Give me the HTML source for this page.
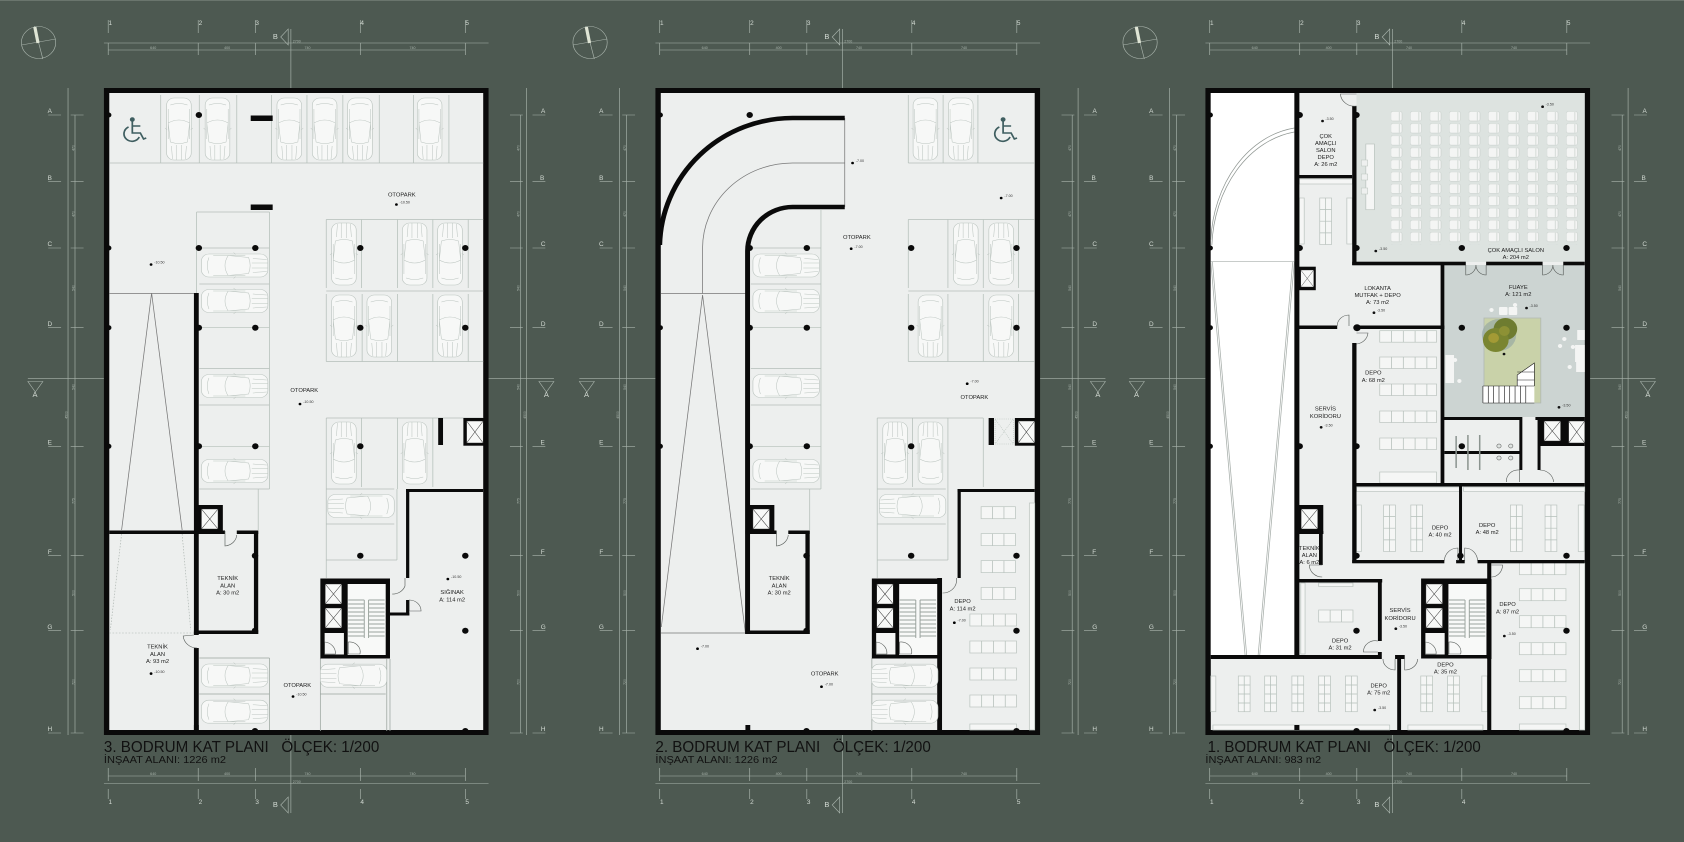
<!DOCTYPE html>
<html><head><meta charset="utf-8"><style>
html,body{margin:0;padding:0;background:#4d5951}
svg{display:block}
text{font-family:"Liberation Sans","DejaVu Sans",sans-serif}
.w{fill:#0a0a0a}
.g{stroke:#b4bfb9;stroke-width:.7;fill:none}
.a{stroke:#aab5ad;stroke-width:.6;fill:none}
.n{font-size:5.4px;fill:#222;text-anchor:middle}
.e{font-size:3.4px;fill:#333}
.d{font-size:3.4px;fill:#aab5ad;text-anchor:middle}
.h{font-size:6px;fill:#d3dad3;text-anchor:middle}
.t{font-size:16px;fill:#111}
.u{font-size:10.5px;fill:#111}
.r{stroke:#5a5f5c;stroke-width:.6;fill:#edefee}
.o{stroke:#5a5f5c;stroke-width:.6;fill:none}
.sh{fill:#f5f6f5;stroke:#bcc5c0;stroke-width:.7}
.gl{stroke:#777;stroke-width:.7;fill:none}
</style></head><body>
<svg xmlns="http://www.w3.org/2000/svg" width="1684" height="842" viewBox="0 0 1684 842">
<defs>
<g id="car">
<rect x="-11.5" y="-31" width="23" height="62" rx="7" fill="#f7f8f7" stroke="#bcc5c0" stroke-width=".6"/>
<path d="M-13-1-11 1M13-1 11 1M-8-24Q0-27 8-24M-10-6Q0-12 10-6L8 13Q0 16-8 13ZM-7 17-6 30M-2.5 16V31M2.5 16V31M7 17 6 30M-10-20V10M10-20V10" fill="none" stroke="#bcc5c0" stroke-width=".5"/>
</g>
<g id="elev"><rect width="15.5" height="20" fill="#f8f9f8" stroke="#222" stroke-width=".4"/><path d="M0 0 15.5 20M15.5 0 0 20" stroke="#333" stroke-width=".5"/></g>
<g id="wc" fill="none" stroke="#3f5e60" stroke-width="1.6">
<circle cx="123.5" cy="119.5" r="1.5" fill="#3f5e60"/>
<path d="M123.5 121V133H131L134 139 136.5 138M123.5 126H131M120 127A7.5 7.5 0 1 0 130 137"/>
</g>
<g id="ann">
<circle cx="36" cy="42.5" r="16" class="a" stroke-width=".8" stroke="#c5ccc5"/>
<path d="M20 45 52 39M32 26 40 59" class="a"/>
<path d="M32.5 27 35.5 43" stroke="#dfe5d5" stroke-width="3"/>
<path d="M101 20V33M185 20V33M238.3 20V33M336.3 20V33M434.3 20V33M97 43H456M101 50H434M101 43V55M185 43V55M238.3 43V55M336.3 43V55M434.3 43V55M271.5 29V88M262 37 269 29V45ZM101 768V781M185 768V781M238.3 768V781M336.3 768V781M434.3 768V781M101 776H434M97 783.5H456M101 789V799M185 789V799M238.3 789V799M336.3 789V799M262 805 269 797V813ZM271.5 735V813M26 378.7H97M456 378.7H517M26 381.5H40L33 392ZM503 381.5H517L510 392ZM63.5 88V735M70 115V733M491.5 88V735M486 115V733" class="a"/>
<path d="M45 115H57M66 115H78M45 181.7H57M66 181.7H78M45 248H57M66 248H78M45 327.7H57M66 327.7H78M45 446.3H57M66 446.3H78M45 555.7H57M66 555.7H78M45 630.7H57M66 630.7H78M45 733H57M66 733H78M476 115H488M497 115H509M476 181.7H488M497 181.7H509M476 248H488M497 248H509M476 327.7H488M497 327.7H509M476 446.3H488M497 446.3H509M476 555.7H488M497 555.7H509M476 630.7H488M497 630.7H509M476 733H488M497 733H509" class="a"/>
<text class="h" x="103" y="25">1</text><text class="h" x="187" y="25">2</text><text class="h" x="240" y="25">3</text><text class="h" x="338" y="25">4</text><text class="h" x="436" y="25">5</text>
<text class="h" x="103" y="804">1</text><text class="h" x="187" y="804">2</text><text class="h" x="240" y="804">3</text><text class="h" x="338" y="804">4</text>
<text class="h" x="257" y="39" style="font-size:7px">B</text><text class="h" x="257" y="807" style="font-size:7px">B</text>
<text class="h" x="32.7" y="397" style="font-size:7px">A</text><text class="h" x="510" y="397" style="font-size:7px">A</text>
<text class="d" x="143" y="49">640</text><text class="d" x="212" y="49">400</text><text class="d" x="287" y="49">740</text><text class="d" x="385" y="49">740</text><text class="d" x="277" y="42.5">2700</text>
<text class="d" x="143" y="775">640</text><text class="d" x="212" y="775">400</text><text class="d" x="287" y="775">740</text><text class="d" x="385" y="775">740</text><text class="d" x="277" y="783">2700</text>
<text class="h" x="46.5" y="113">A</text><text class="h" x="46.5" y="180">B</text><text class="h" x="46.5" y="246">C</text><text class="h" x="46.5" y="326">D</text><text class="h" x="46.5" y="444.5">E</text><text class="h" x="46.5" y="554">F</text><text class="h" x="46.5" y="629">G</text><text class="h" x="46.5" y="731">H</text>
<text class="h" x="507" y="113">A</text><text class="h" x="506" y="180">B</text><text class="h" x="507" y="246">C</text><text class="h" x="507" y="326">D</text><text class="h" x="506.5" y="444.5">E</text><text class="h" x="506.5" y="554">F</text><text class="h" x="507" y="629">G</text><text class="h" x="507" y="731">H</text>
<g class="d"><text transform="translate(69.5,148) rotate(-90)">470</text><text transform="translate(69.5,214) rotate(-90)">470</text><text transform="translate(69.5,288) rotate(-90)">540</text><text transform="translate(69.5,387) rotate(-90)">540</text><text transform="translate(63,415) rotate(-90)">4500</text><text transform="translate(69.5,501) rotate(-90)">775</text><text transform="translate(69.5,593) rotate(-90)">500</text><text transform="translate(69.5,682) rotate(-90)">720</text>
<text transform="translate(485,148) rotate(-90)">470</text><text transform="translate(485,214) rotate(-90)">470</text><text transform="translate(485,288) rotate(-90)">540</text><text transform="translate(485,387) rotate(-90)">540</text><text transform="translate(491,415) rotate(-90)">4500</text><text transform="translate(485,501) rotate(-90)">775</text><text transform="translate(485,593) rotate(-90)">500</text><text transform="translate(485,682) rotate(-90)">720</text></g>
</g>
<g id="core">
<rect class="w" x="299" y="578.5" width="65" height="80"/>
<use href="#elev" x="303.5" y="584"/><use href="#elev" x="303.5" y="608"/>
<rect x="303" y="633" width="18" height="21.5" fill="#f5f6f5"/>
<rect x="324.5" y="584" width="35.5" height="71" fill="#f8f9f8"/>
<path d="M325 600H340M344 600H359M325 604H340M344 604H359M325 608H340M344 608H359M325 612H340M344 612H359M325 616H340M344 616H359M325 620H340M344 620H359M325 624H340M344 624H359M325 628H340M344 628H359M325 632H340M344 632H359M325 636H340M344 636H359M340 600V638M344 600V638" stroke="#9aa39e" stroke-width=".9" fill="none"/>
<path class="o" d="M303 642A11 11 0 0 1 313 654H303ZM325 642A10 10 0 0 1 336 654H325Z"/>
</g>
<g id="tek">
<rect class="w" x="181" y="530.5" width="29" height="3.5"/><rect class="w" x="221" y="530.5" width="20" height="3.5"/>
<rect class="w" x="237" y="530.5" width="4" height="103.5"/><rect class="w" x="181" y="630.5" width="60" height="3.5"/>
<rect class="w" x="185" y="505" width="23" height="29"/><use href="#elev" x="188" y="509"/>
<path class="r" d="M210 531V546A12 12 0 0 0 221 535"/>
<text class="n" x="212.5" y="580">TEKNİK</text><text class="n" x="212.5" y="587.5">ALAN</text><text class="n" x="212.5" y="594.5">A: 30 m2</text>
</g>
<g id="s33"><rect class="sh" width="32" height="12"/><path class="g" d="M10.7 0V12M21.3 0V12"/></g>
<g id="s44"><rect class="sh" width="43.5" height="12"/><path class="g" d="M11 0V12M22 0V12M33 0V12"/></g>
<g id="s53"><rect class="sh" width="53" height="11.5"/><path class="g" d="M11 0V11.5M22 0V11.5M33 0V11.5M44 0V11.5"/></g>
<g id="v36"><rect class="sh" width="11" height="35.7"/><path class="g" d="M5.5 0V35.7M0 9H11M0 18H11M0 27H11"/></g>
<g id="v46"><rect class="sh" width="11" height="46.5"/><path class="g" d="M5.5 0V46.5M0 11.6H11M0 23.2H11M0 34.9H11"/></g>
<pattern id="chairs" x="270" y="111.5" width="18.2" height="12.07" patternUnits="userSpaceOnUse">
<rect x="0" y="0" width="10.5" height="9.5" rx="2" fill="#f4f5f4" stroke="#c3cbc7" stroke-width=".5"/><path d="M8 .5V9" stroke="#c3cbc7" stroke-width=".6"/>
</pattern>
<g id="leftstalls"><path class="g" d="M251.5 248V489M241 489V530M186 248H251.5M186 284H251.5M186 327.7H251.5M186 368.5H251.5M186 405H251.5M186 446.3H251.5M186 489H251.5"/>
<use href="#car" transform="translate(219,265.5) rotate(-90)"/><use href="#car" transform="translate(219,301) rotate(-90)"/><use href="#car" transform="translate(219,386) rotate(-90)"/><use href="#car" transform="translate(219,471) rotate(-90)"/></g>
</defs>

<rect width="1684" height="842" fill="#4d5951"/>
<rect width="1684" height="1" fill="#6a756d"/>

<!-- PLAN 3 BODRUM -->
<g transform="scale(1.0714,1)">
<use href="#ann"/>
<path d="M434.3 789V799" class="a"/><text class="h" x="436" y="804">5</text>
<rect x="99.5" y="90.5" width="354" height="642" fill="#edefee" stroke="#0a0a0a" stroke-width="5"/>
<use href="#wc"/>
<path class="g" d="M102 163H451M150 95V163M186 95V163M221 95V163M253.5 95V163M286.5 95V163M320 95V163M354 95V163M386 95V163M419 95V163"/>
<path class="g" d="M183.5 212V294M183.5 212H251.5M251.5 212V248"/>
<use href="#leftstalls"/>
<use href="#car" x="167" y="129"/><use href="#car" x="203" y="129"/><use href="#car" x="270" y="129"/><use href="#car" x="303" y="129"/><use href="#car" x="336" y="129"/><use href="#car" x="401" y="129"/>
<rect class="w" x="234" y="115.5" width="20.5" height="5.5"/><rect class="w" x="234" y="204.5" width="20.5" height="5.5"/>
<path class="g" d="M304.5 219.5H451M304.5 291H451M304.5 361.5H451M304.5 219.5V288M337.5 219.5V288M371 219.5V288M404 219.5V288M437 219.5V288M304.5 294V361.5M338 294V361.5M371 294V361.5M404 294V361.5M437 294V361.5"/>
<use href="#car" transform="translate(321,254) rotate(180)"/><use href="#car" transform="translate(387,254) rotate(180)"/><use href="#car" transform="translate(420,254) rotate(180)"/>
<use href="#car" x="321" y="326"/><use href="#car" x="354" y="326"/><use href="#car" x="420" y="326"/>
<path class="g" d="M304.5 418H451M304.5 418V578M337.5 418V487M371 418V489M404 418V487M304.5 489H368M304.5 524H368M304.5 560H370.5M370.5 489V560"/>
<use href="#car" transform="translate(321,453) rotate(180)"/><use href="#car" transform="translate(387,453) rotate(180)"/><use href="#car" transform="translate(337,506) rotate(90)"/>
<rect class="w" x="409" y="418" width="4.5" height="27"/><rect class="w" x="432.5" y="418" width="19" height="27.7"/><use href="#elev" transform="translate(435.5,421) scale(1,1.1)"/>
<path class="gl" d="M102 293.5H181M141.5 293 113.5 530M141.5 293 170 530"/>
<path stroke="#aab3ae" stroke-width=".6" stroke-dasharray="1.5 1.5" fill="none" d="M102 633H181M113.5 534 103 630M170 534 178 630"/>
<rect class="w" x="181" y="293" width="4.5" height="342"/><rect class="w" x="181" y="648" width="4.5" height="83"/>
<rect class="w" x="102" y="530.5" width="80" height="3.5"/>
<use href="#tek"/>
<path class="o" d="M181 635 171 636A13 13 0 0 0 184 648"/>
<text class="n" x="147" y="648.5">TEKNİK</text><text class="n" x="147" y="656">ALAN</text><text class="n" x="147" y="663">A: 93 m2</text>
<rect class="w" x="379" y="489" width="72" height="3"/><rect class="w" x="379" y="489" width="3" height="89"/><rect class="w" x="379" y="600" width="3" height="15.5"/><rect class="w" x="364" y="612.5" width="18" height="3"/>
<path class="o" d="M378 578V586A12 12 0 0 1 366 594"/><path class="o" d="M382 600A11 11 0 0 1 393 611H382Z"/>
<path class="g" d="M186 658H251.5M186 694H251.5M251.5 658V730M299 658V731M299 694H360M361 659V731M364 659V731" style="stroke:#9ba59f"/>
<use href="#car" transform="translate(219,675.5) rotate(-90)"/><use href="#car" transform="translate(219,711.7) rotate(-90)"/><use href="#car" transform="translate(330,675.7) rotate(90)"/>
<use href="#core"/>
<g class="w"><circle cx="101.5" cy="115" r="2.5"/><circle cx="185.6" cy="115" r="3"/><circle cx="101.5" cy="248" r="2.5"/><circle cx="185.6" cy="248" r="3"/><circle cx="238.3" cy="248" r="3"/><circle cx="336.3" cy="248" r="3"/><circle cx="434.3" cy="248" r="3"/><circle cx="101.5" cy="327.7" r="2.5"/><circle cx="185.6" cy="327.7" r="3"/><circle cx="238.3" cy="327.7" r="3"/><circle cx="336.3" cy="327.7" r="3"/><circle cx="434.3" cy="327.7" r="3"/><circle cx="101.5" cy="446.3" r="2.5"/><circle cx="185.6" cy="446.3" r="3"/><circle cx="238.3" cy="446.3" r="3"/><circle cx="336.3" cy="446.3" r="3"/><circle cx="238" cy="555.7" r="3"/><circle cx="336.3" cy="555.7" r="3"/><circle cx="434.3" cy="555.7" r="3"/><circle cx="434.3" cy="630.7" r="3"/><circle cx="238" cy="630.7" r="3"/><circle cx="238" cy="731" r="3"/><circle cx="434.3" cy="731" r="3"/><rect x="181" y="725" width="4.5" height="6"/></g>
<text class="n" x="375" y="196.5">OTOPARK</text><circle cx="370" cy="204.5" r="1.3"/><text class="e" x="373" y="203.5">-10.50</text>
<circle cx="141" cy="264.5" r="1.3"/><text class="e" x="144" y="263.5">-10.50</text>
<text class="n" x="284" y="392">OTOPARK</text><circle cx="280" cy="404" r="1.3"/><text class="e" x="283" y="403">-10.50</text>
<circle cx="141" cy="673.6" r="1.3"/><text class="e" x="144" y="673">-10.50</text>
<text class="n" x="422" y="594">SIĞINAK</text><text class="n" x="422" y="601.5">A: 114 m2</text><circle cx="418" cy="579" r="1.3"/><text class="e" x="421" y="578">-10.50</text>
<text class="n" x="277.5" y="687">OTOPARK</text><circle cx="273.5" cy="696.5" r="1.3"/><text class="e" x="276.5" y="695.5">-10.50</text>
<text class="t" x="97" y="752" textLength="257" lengthAdjust="spacingAndGlyphs" xml:space="preserve">3. BODRUM KAT PLANI   ÖLÇEK: 1/200</text>
<text class="u" x="97" y="763" textLength="114" lengthAdjust="spacingAndGlyphs">İNŞAAT ALANI: 1226 m2</text>
</g>

<!-- PLAN 2 BODRUM -->
<g transform="translate(551.5,0) scale(1.0714,1)">
<use href="#ann"/>
<path d="M434.3 789V799" class="a"/><text class="h" x="436" y="804">5</text>
<rect x="99.5" y="90.5" width="354" height="642" fill="#edefee" stroke="#0a0a0a" stroke-width="5"/>
<use href="#wc" transform="translate(298,0)"/>
<path class="gl" d="M273.7 118V207M273.7 163H225A84 85 0 0 0 141 248V293.5M102 293.5H183M141 295 102.5 627M141 295 181 633M102 633H181"/>
<path fill="none" stroke="#0a0a0a" stroke-width="4.6" d="M273.7 118H225A124 130 0 0 0 101 245M273.7 207H225A42 44 0 0 0 183 251V634"/>
<path class="g" d="M251.5 209V248"/>
<use href="#leftstalls"/>
<use href="#tek"/>
<path class="g" d="M333 95V163M365.5 95V163M398 95V163M333 163H451M333 219.5H451M333 291H451M333 361.5H451M333 219.5V288M370 219.5V288M403 219.5V288M436 219.5V288M333 294V361.5M370 294V361.5M403 294V361.5M436 294V361.5"/>
<use href="#car" x="349" y="129"/><use href="#car" x="382" y="129"/>
<use href="#car" transform="translate(386.7,254) rotate(180)"/><use href="#car" transform="translate(419.7,254) rotate(180)"/>
<use href="#car" x="353.7" y="326"/><use href="#car" x="419.7" y="326"/>
<path class="g" d="M304 418H403M304 418V578M337 418V487M370 418V489M403 418V487M304 489H368M304 524H368M304 560H370M370 489V560"/>
<use href="#car" transform="translate(320.7,453) rotate(180)"/><use href="#car" transform="translate(353.7,453) rotate(180)"/><use href="#car" transform="translate(337,506) rotate(90)"/>
<rect class="w" x="408" y="418" width="5" height="27"/><path d="M414 419H431V444H414ZM414 419 431 444M431 419 414 444" fill="none" stroke="#b4bfb9" stroke-width=".5" stroke-dasharray="1 1"/>
<rect class="w" x="432.5" y="418" width="19" height="27.7"/><use href="#elev" transform="translate(435.5,421) scale(1,1.1)"/>
<rect class="w" x="379" y="489" width="72" height="3"/><rect class="w" x="379" y="489" width="3" height="89"/>
<rect class="w" x="360" y="578" width="4.5" height="153"/>
<path class="o" d="M378 578V582A13 13 0 0 1 365 593"/>
<use href="#s33" x="401" y="506.7"/><use href="#s33" x="401" y="533.6"/><use href="#s33" x="401" y="560.6"/><use href="#s33" x="401" y="587.5"/>
<use href="#s44" x="390.5" y="614"/><use href="#s44" x="390.5" y="641"/><use href="#s44" x="390.5" y="668"/><use href="#s44" x="390.5" y="695"/>
<rect class="sh" x="390.5" y="724" width="43.5" height="6"/>
<rect class="sh" x="446" y="503" width="5" height="227"/>
<path class="g" d="M299 658V731M299 694H360" style="stroke:#9ba59f"/>
<use href="#car" transform="translate(329.7,675.7) rotate(90)"/><use href="#car" transform="translate(329.7,711.7) rotate(90)"/>
<use href="#core"/>
<g class="w"><circle cx="101.5" cy="115" r="2.5"/><circle cx="185" cy="115" r="3"/><circle cx="185" cy="248" r="3"/><circle cx="238.3" cy="248" r="3"/><circle cx="335.7" cy="248" r="3"/><circle cx="434" cy="248" r="3"/><circle cx="101.5" cy="327.7" r="2.5"/><circle cx="185" cy="327.7" r="3"/><circle cx="238.3" cy="327.7" r="3"/><circle cx="335.7" cy="327.7" r="3"/><circle cx="434" cy="327.7" r="3"/><circle cx="101.5" cy="446.3" r="2.5"/><circle cx="185" cy="446.3" r="3"/><circle cx="238.3" cy="446.3" r="3"/><circle cx="335.7" cy="446.3" r="3"/><circle cx="238" cy="555.7" r="3"/><circle cx="335.7" cy="555.7" r="3"/><circle cx="434" cy="555.7" r="3"/><circle cx="434" cy="630.7" r="3"/><circle cx="238" cy="630.7" r="3"/><circle cx="238" cy="731" r="3"/><circle cx="434" cy="731" r="3"/><rect x="181" y="725" width="4.5" height="6"/></g>
<circle cx="281" cy="163" r="1.3"/><text class="e" x="284" y="162">-7.00</text>
<circle cx="419.7" cy="198" r="1.3"/><text class="e" x="422.7" y="197">-7.00</text>
<text class="n" x="285" y="239">OTOPARK</text><circle cx="279.7" cy="248.7" r="1.3"/><text class="e" x="282.7" y="248">-7.00</text>
<circle cx="388" cy="383.7" r="1.3"/><text class="e" x="391" y="382.5">-7.00</text><text class="n" x="394.7" y="399">OTOPARK</text>
<circle cx="136.3" cy="648.7" r="1.3"/><text class="e" x="139.3" y="647.5">-7.00</text>
<text class="n" x="255" y="675.5">OTOPARK</text><circle cx="252" cy="686.7" r="1.3"/><text class="e" x="255" y="685.5">-7.00</text>
<text class="n" x="383.7" y="603">DEPO</text><text class="n" x="383.7" y="610.5">A: 114 m2</text><circle cx="376" cy="622.7" r="1.3"/><text class="e" x="379" y="621.5">-7.00</text>
<text class="t" x="97" y="752" textLength="257" lengthAdjust="spacingAndGlyphs" xml:space="preserve">2. BODRUM KAT PLANI   ÖLÇEK: 1/200</text>
<text class="u" x="97" y="763" textLength="114" lengthAdjust="spacingAndGlyphs">İNŞAAT ALANI: 1226 m2</text>
</g>

<!-- PLAN 1 BODRUM -->
<g transform="translate(1101.5,0) scale(1.0714,1)">
<use href="#ann"/>
<rect x="99.5" y="90.5" width="354" height="642" fill="#edefee" stroke="#0a0a0a" stroke-width="5"/>
<rect x="102" y="93" width="78" height="562" fill="#fff"/>
<path d="M180 128A90 120 0 0 0 102 240M180 132A90 120 0 0 0 103 245" fill="none" stroke="#8f9692" stroke-width=".7"/>
<path class="gl" d="M102 261.7H180M102 262 134 655M103.5 262 135.5 655M180 262 147.7 655M178.5 262 146.2 655" style="stroke:#a7aeaa"/>
<rect x="238" y="93" width="213" height="169" fill="#dde3e0"/>
<rect x="270" y="111.5" width="181" height="133" fill="url(#chairs)"/>
<rect class="sh" x="246.7" y="144" width="8" height="65.7"/>
<path fill="#eef0ef" stroke="#bcc5c0" stroke-width=".5" d="M242.5 160H248.5V166H242.5ZM242.5 174H248.5V180H242.5ZM242.5 188H248.5V194H242.5Z"/>
<rect x="320" y="265" width="131" height="152" fill="#ccd4d2"/>
<rect x="357" y="318" width="53" height="85" fill="#c9d2a9" stroke="#b2bab5" stroke-width=".8"/>
<circle cx="371" cy="335" r="16" fill="#8b9fa0" opacity=".55"/>
<circle cx="377" cy="329" r="11" fill="#6e7c30"/><circle cx="368" cy="340" r="12" fill="#7a8530"/><circle cx="366" cy="338" r="5" fill="#a39a35"/><circle cx="376" cy="331" r="5" fill="#8d9135"/>
<path d="M388 375 404 363V403H356V386H388Z" fill="#fff"/>
<path d="M356 386H404M356 403H404M356 386V403M361 386V403M366 386V403M371 386V403M376 386V403M381 386V403M386 386V403M391 386V403M396 386V403M388 375V386M388 380H404M388 375 404 363V386M388 372H404" fill="none" stroke="#222" stroke-width=".6"/>
<g fill="#f4f5f4"><rect x="371" y="307" width="8" height="8" rx="1"/><rect x="380" y="307" width="8" height="8" rx="1"/><circle cx="364" cy="310" r="2"/><circle cx="386" cy="305" r="2"/><rect x="321" y="355" width="8" height="9"/><rect x="321" y="364" width="8" height="19"/><circle cx="330" cy="360" r="2"/><circle cx="334" cy="381" r="2"/><rect x="444" y="330" width="7" height="10"/><rect x="442" y="345" width="9" height="17"/><rect x="443" y="362" width="8" height="10"/><circle cx="432" cy="339" r="2"/><circle cx="428" cy="346" r="2"/><circle cx="440" cy="347" r="2"/><circle cx="437" cy="367" r="2"/></g>
<rect class="sh" x="184.7" y="179" width="49.5" height="5"/><rect class="sh" x="184.7" y="198" width="4.5" height="46"/><use href="#v46" x="203.7" y="198"/><rect class="sh" x="229" y="198" width="5" height="46"/>
<use href="#s53" x="259.7" y="330.7"/><use href="#s53" x="259.7" y="357"/><use href="#s53" x="259.7" y="384"/><use href="#s53" x="259.7" y="411"/><use href="#s53" x="259.7" y="438"/><rect class="sh" x="259.7" y="472" width="53" height="11"/>
<rect class="sh" x="238" y="487" width="96" height="4.5"/><rect class="sh" x="338" y="487" width="113" height="4.5"/>
<rect class="sh" x="238" y="505" width="4.5" height="46.5"/>
<use href="#v46" x="263.3" y="505"/><use href="#v46" x="288.7" y="505"/><use href="#v46" x="381.7" y="505"/><use href="#v46" x="414" y="505"/><rect class="sh" x="445" y="505" width="5.5" height="46.5"/>
<use href="#s33" x="202.7" y="610"/><rect class="sh" x="202.7" y="583" width="32" height="3.5"/><rect class="sh" x="186" y="583" width="4" height="71"/>
<use href="#s44" x="390" y="562.7"/><use href="#s44" x="390" y="588.7"/><use href="#s44" x="390" y="615.7"/><use href="#s44" x="390" y="642.7"/><use href="#s44" x="390" y="669.7"/><use href="#s44" x="390" y="696.7"/><rect class="sh" x="390" y="724" width="43.5" height="6"/><rect class="sh" x="446" y="563" width="5" height="167"/>
<rect class="sh" x="104" y="725" width="165" height="5"/><rect class="sh" x="286" y="725" width="70" height="5"/>
<rect class="sh" x="102" y="676" width="4.700" height="35.700"/><use href="#v36" x="127.7" y="676"/><use href="#v36" x="152.3" y="676"/><use href="#v36" x="177.7" y="676"/><use href="#v36" x="202.7" y="676"/><use href="#v36" x="227.7" y="676"/>
<use href="#v36" x="298" y="676"/><use href="#v36" x="323" y="676"/><rect class="sh" x="355" y="676" width="5" height="35.700"/>
<g class="w">
<rect x="180" y="93" width="4.7" height="566"/>
<rect x="184" y="175" width="50" height="3.3"/>
<rect x="234" y="106" width="4" height="159"/>
<rect x="234" y="261.7" width="106" height="3.6"/><rect x="359" y="261.7" width="52.7" height="3.6"/><rect x="431" y="261.7" width="20" height="3.6"/>
<rect x="316.5" y="262" width="3.5" height="224"/>
<rect x="184" y="325.5" width="36" height="3.5"/><rect x="238" y="325.5" width="82" height="3.5"/>
<rect x="234" y="343" width="4" height="220"/>
<rect x="238" y="483" width="213" height="3.5"/>
<rect x="333.7" y="486" width="2.8" height="75"/>
<rect x="234" y="560" width="86" height="3.3"/><rect x="331" y="560" width="8" height="3.3"/><rect x="351" y="560" width="100" height="3.3"/>
<rect x="184" y="266.7" width="16" height="23.5"/><rect x="184" y="505" width="23" height="29"/>
<rect x="203" y="505" width="3.5" height="60"/><rect x="184" y="531" width="23" height="3"/>
<rect x="184" y="579" width="78" height="3.5"/><rect x="258" y="579" width="3.6" height="62"/><rect x="258" y="652" width="3.6" height="7"/>
<rect x="102" y="655" width="158" height="4"/><rect x="274" y="655" width="9" height="4"/>
<rect x="276" y="655" width="3.6" height="76"/><rect x="180" y="725" width="4.700" height="5"/>
<rect x="360" y="561" width="3.8" height="170"/>
<rect x="317" y="417" width="74" height="3"/><rect x="405" y="417" width="46" height="3"/>
<rect x="390" y="417" width="2.8" height="53"/><rect x="407" y="417" width="2.8" height="53"/>
<rect x="320" y="451" width="71" height="3"/>
<rect x="409" y="417" width="42" height="29"/>
</g>
<use href="#elev" transform="translate(186,270) scale(.78,.85)"/>
<use href="#elev" x="186.300" y="509"/>
<use href="#elev" transform="translate(413,421) scale(1,1)"/><rect x="430" y="418" width="4" height="25" class="w"/><use href="#elev" transform="translate(436,421) scale(.97,1.1)"/>
<path d="M331 436V468M342 435V470M353 435V470" stroke="#8b948f" stroke-width="1.4"/>
<g fill="#dfe4e1" stroke="#555" stroke-width=".5"><circle cx="371" cy="446" r="2"/><circle cx="382" cy="446" r="2"/><circle cx="371" cy="458" r="2"/><circle cx="382" cy="458" r="2"/></g>
<use href="#core" x="-.7"/>
<rect class="w" x="360" y="579" width="4" height="80"/>
<path class="o" d="M238 94H223A13 13 0 0 0 238 106"/>
<path class="o" d="M340 265V275A9.500 10 0 0 0 349.500 265M359 265V275A9.500 10 0 0 1 349.500 265M411.700 265V275A9.700 10 0 0 0 421.300 265M431 265V275A9.700 10 0 0 1 421.300 265"/>
<path class="o" d="M231 326V315A11 11 0 0 0 220 326M238 344A12 12 0 0 0 248.700 333H238"/>
<path class="o" d="M378 482A11 11 0 0 1 390 470V482M409 470A13 13 0 0 1 422 482"/>
<path class="o" d="M332.700 561V548A12.700 13 0 0 0 320 561M339 561V548A12 13 0 0 1 351 561"/>
<path class="o" d="M364 565H374.300A10.300 12 0 0 1 364 577M206 565H194A12 12 0 0 0 206 577"/>
<path class="o" d="M258 641A11 11 0 0 0 244.500 652H258M262.700 659A11.500 11 0 0 0 274 670V659M283 659V670A12 11 0 0 0 295 659"/>
<g class="w"><circle cx="101.500" cy="115" r="2.5"/><circle cx="185" cy="115" r="3"/><circle cx="238" cy="115" r="3"/><circle cx="101.500" cy="248" r="2.5"/><circle cx="185" cy="248" r="3"/><circle cx="238" cy="248" r="3"/><circle cx="336.300" cy="248" r="3"/><circle cx="434" cy="248" r="3"/><circle cx="101.500" cy="327.700" r="2.5"/><circle cx="238.500" cy="327.700" r="3.5"/><circle cx="336.300" cy="327.700" r="3"/><circle cx="434" cy="327.700" r="3"/><circle cx="101.500" cy="446.300" r="2.5"/><circle cx="185" cy="446.300" r="3"/><circle cx="238" cy="446.300" r="3"/><circle cx="336.300" cy="446.300" r="3"/><circle cx="238" cy="555.700" r="3"/><circle cx="335" cy="555.700" r="3"/><circle cx="434" cy="555.700" r="3"/><circle cx="238" cy="630.700" r="3"/><circle cx="434" cy="630.700" r="3"/><circle cx="238" cy="731" r="3"/><circle cx="434" cy="731" r="3"/></g>
<g class="n"><text x="209.300" y="138">ÇOK</text><text x="209.300" y="145">AMAÇLI</text><text x="209.300" y="152">SALON</text><text x="209.300" y="159">DEPO</text><text x="209.300" y="166">A: 26 m2</text>
<text x="386.700" y="252">ÇOK AMAÇLI SALON</text><text x="386.700" y="259">A: 204 m2</text>
<text x="257.700" y="290">LOKANTA</text><text x="257.700" y="297">MUTFAK + DEPO</text><text x="257.700" y="304">A: 73 m2</text>
<text x="389" y="289">FUAYE</text><text x="389" y="296">A: 121 m2</text>
<text x="253.700" y="374.700">DEPO</text><text x="253.700" y="382">A: 68 m2</text>
<text x="209" y="410.500">SERVİS</text><text x="209" y="418">KORİDORU</text>
<text x="316" y="529.700">DEPO</text><text x="316" y="536.700">A: 40 m2</text>
<text x="360" y="527">DEPO</text><text x="360" y="534">A: 48 m2</text>
<text x="379" y="606">DEPO</text><text x="379" y="613.500">A: 87 m2</text>
<text x="278.700" y="612">SERVİS</text><text x="278.700" y="620">KORİDORU</text>
<text x="222.700" y="642.700">DEPO</text><text x="222.700" y="649.700">A: 31 m2</text>
<text x="321" y="666.700">DEPO</text><text x="321" y="673.700">A: 35 m2</text>
<text x="258.700" y="687.500">DEPO</text><text x="258.700" y="694.700">A: 75 m2</text>
<text x="194" y="550">TEKNİK</text><text x="194" y="557">ALAN</text><text x="194" y="564">A: 6 m2</text></g>
<g fill="#111"><circle cx="206.300" cy="121" r="1.3"/><circle cx="411.700" cy="106.700" r="1.3"/><circle cx="256" cy="251" r="1.3"/><circle cx="396.700" cy="308" r="1.3"/><circle cx="427" cy="407.300" r="1.3"/><circle cx="375.700" cy="354" r="1.3"/><circle cx="254.300" cy="312.700" r="1.3"/><circle cx="205" cy="427.300" r="1.3"/><circle cx="376" cy="636" r="1.3"/><circle cx="274.700" cy="628.700" r="1.3"/><circle cx="255" cy="710" r="1.3"/></g>
<g class="e"><text x="209" y="120">-3.50</text><text x="414.500" y="105.500">-3.50</text><text x="259" y="250">-3.50</text><text x="399.500" y="307">-3.50</text><text x="430" y="406.500">-3.50</text><text x="257" y="311.500">-3.50</text><text x="208" y="426.500">-3.50</text><text x="379" y="635">-3.50</text><text x="277.500" y="627.500">-3.50</text><text x="258" y="709">-3.50</text></g>
<text class="t" x="99" y="752" textLength="255" lengthAdjust="spacingAndGlyphs" xml:space="preserve">1. BODRUM KAT PLANI   ÖLÇEK: 1/200</text>
<text class="u" x="97" y="763" textLength="108" lengthAdjust="spacingAndGlyphs">İNŞAAT ALANI: 983 m2</text>
</g>
</svg>
</body></html>
